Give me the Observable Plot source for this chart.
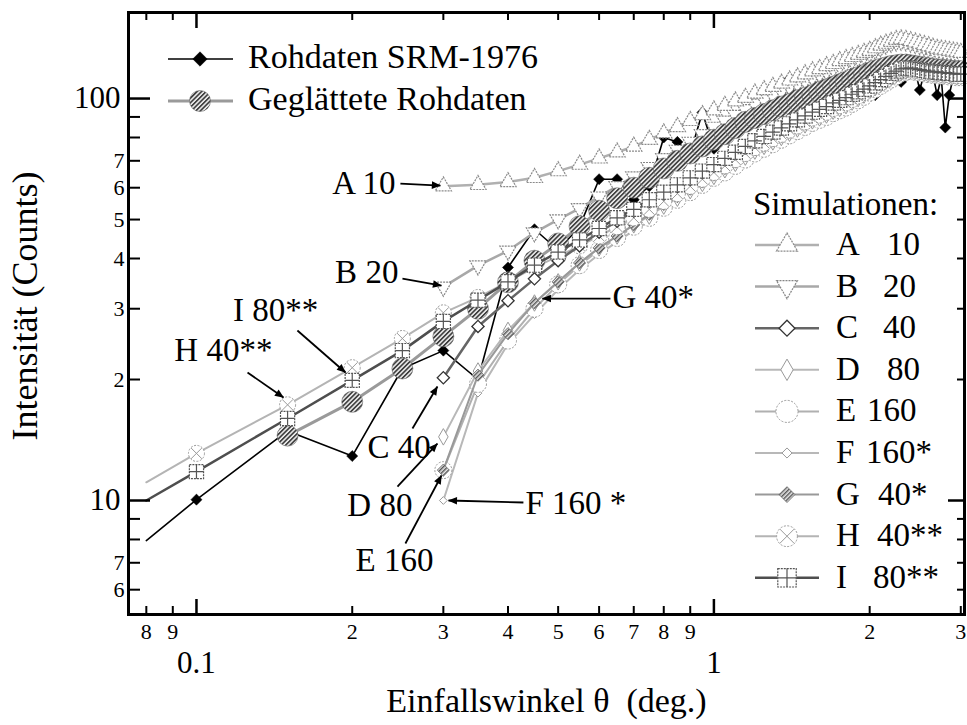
<!DOCTYPE html>
<html><head><meta charset="utf-8">
<script src="https://cdn.jsdelivr.net/npm/d3@7"></script>
<script src="https://cdn.jsdelivr.net/npm/@observablehq/plot@0.6"></script>
<style>
html,body{margin:0;padding:0;background:#fff;}
svg text{white-space:pre;}
</style>
</head><body>
<svg width="0" height="0" style="position:absolute">
<defs>
<pattern id="hatchDark" patternUnits="userSpaceOnUse" width="3.2" height="3.2" patternTransform="rotate(45)">
<rect width="3.2" height="3.2" fill="#efefef"/><rect width="1.7" height="3.2" fill="#404040"/>
</pattern>
<pattern id="hatchMid" patternUnits="userSpaceOnUse" width="3" height="3" patternTransform="rotate(45)">
<rect width="3" height="3" fill="#e4e4e4"/><rect width="1.4" height="3" fill="#555"/>
</pattern>
<marker id="ah" viewBox="0 0 10 10" refX="9.5" refY="5" markerWidth="13" markerHeight="9" markerUnits="userSpaceOnUse" orient="auto">
<path d="M0,0.8 L10,5 L0,9.2 z" fill="black"/>
</marker>
</defs>
</svg>
<div id="chart"></div>
<script>
// ---------- data ----------
const xs = [0.08,0.1,0.15,0.2,0.25,0.3,0.35,0.4,0.45,0.5,0.55,0.6,0.65,0.7,0.75,0.8,0.85,0.9,0.95,
  1.0,1.05,1.1,1.15,1.2,1.25,1.3,1.35,1.4,1.45,1.5,1.55,1.6,1.65,1.7,1.75,1.8,1.85,1.9,1.95,
  2.0,2.05,2.1,2.15,2.2,2.25,2.3,2.35,2.4,2.45,2.5,2.55,2.6,2.65,2.7,2.75,2.8,2.85,2.9,2.95,3.0];

const rawY = [7.95,10.05,14.9,12.9,21.3,23.6,20,38,47.3,42,48,63,63,56,60.5,80,78,73,92.3,
  75,80,83,87,90,92,95,96,112,99,101,104,103,107,106,110,111,116,113,115,
  104,102,112,115,114,113,110,117,119,117,105,116,118,115,102,113,84.7,102,113,115,114];

const smoothY = [14.5,17.6,21.3,25.6,30.0,34.9,39.5,43.6,48.1,52.6,56.5,60,63.5,67,70,73,76,
  79,81.5,84.5,87.5,89.5,91.5,93.5,95.5,97,99,100.5,102,104,105.5,107,108.5,110,111.5,113,114.5,
  116,117.5,118.5,119.5,120.5,121,121.5,121.5,121,120.5,120,119.5,119,118.5,118,118,117.5,117.5,117,117,117];

const simA = [60.5,61,62,63.5,66,68.5,71,73.5,76,79,82,85,88,91,
  93.5,96,98.5,100.5,103,105,107,109,111,113,115,117,118.5,120.5,122,124,125.5,127,128.5,130,
  131.5,133.5,135.5,137,138.5,140,140.5,140,139,138,137,136,135,134,133,132.5,132,131.5,131,130.5,130];
const simB = [34,38.4,41.8,46.4,50,53.3,57,60.5,64,67.5,71,74.5,78,81.5,
  85,88,91,94,97,99.5,102,104.5,107,109,111,113,115,117,119,121,123,124.5,126.5,128,
  130,132,134,136,137.5,138.5,139,138.5,137.5,136.5,135.5,134.5,133.5,132.5,131.5,131,130.5,130,129.5,129,128.5];
const simC = [20.2,27.1,31.4,35.6,39.5,43,46.5,49.5,52.5,55.5,58,60.5,63,65.5,
  68,70.5,73,75.5,78,80,82,84,86,88,90,92,93.5,95,97,98.5,100,102,103.5,105,
  106.5,108.5,110.5,112.5,114.5,116,117.5,118.5,118.5,118,117.5,117,116.5,116,116,115.5,115.5,115,115,114.5,114.5];
const simD = [14.4,21,26.5,31,35,39,42.5,45.5,48.5,51,54,56.5,59,61.5,
  64,66.5,69,71.5,74,76,78,80,82,84,86,88,89.5,91,93,94.5,96,98,100,102,
  104.5,106.5,108.5,110.5,112.5,114.5,116,117,117.5,117,116.5,116,115.5,115,115,114.5,114.5,114,114,113.5,113.5];
const simE = [11.9,19.5,25,30,34.5,38.5,42,45,48,50.5,53.5,56,58.5,61,
  63.5,65.5,68,70.5,73,75,77,79,81,83,85,87,88.5,90,92,93.5,95,97,99,101,
  103.5,105.5,107.5,109.5,111.5,113.5,115.5,116.5,117,116.5,116,115.5,115,114.5,114.5,114,114,113.5,113.5,113,113];
const simF = [10.0,18.5,24.5,29,33.5,37.5,41,44,47,49.5,52.5,55,57.5,60,
  62.5,64.5,67,69.5,72,74,76,78,80,82,84,86,87.5,89,91,92.5,94,96,98,100.5,
  103,105,107,109,111,113,115,116,116.5,116,115.5,115,114.5,114,114,113.5,113.5,113,113,112.5,112.5];
const simG = [11.9,20.5,26,31,35,39,42.5,45.5,48.5,51.5,54.5,57,59.5,62,
  64.5,67,69.5,72,74.5,76.5,78.5,80.5,82.5,84.5,86.5,88.5,90,91.5,93.5,95,96.5,98.5,100.5,102.5,
  104,106,108,110,112,114,115.5,116.5,117,116.5,116,115.5,115,114.5,114.5,114,114,113.5,113.5,113,113];
const simH = [11.1,13.1,17.3,21.4,25.3,
  29.3,32,35,38,40.5,43,45.5,48,50.5,53,55.5,58,60.5,63,
  65.5,68,70.5,73,75.5,77.5,79.5,81.5,83.5,85.5,87.5,89.5,91,92.5,94.5,96,97.5,99.5,101.5,103.5,
  105.5,107.5,109.5,111.5,113.5,115.5,117,118,118,117.5,117,116.5,116,115.5,115.5,115,115,114.5,114.5,114,114];
const simI = [10.0,11.8,16.0,19.9,23.6,
  27.9,31.5,35,38.5,41.5,44.5,47.5,50.5,53,56,58.5,61,63.5,66,
  68.5,71,73.5,76,78.5,80.5,82.5,84.5,86.5,88.5,90.5,92.5,94,95.5,97.5,99,100.5,102.5,104,105.5,
  107.5,109.5,111.5,113.5,115.5,117,118.5,119,119,118.5,118,117.5,117,116.5,116.5,116,116,115.5,115.5,115,115];

const simLetters = ["A","B","C","D","E","F","G","H","I"];
const simNumbers = ["10","20","40","80","160","160*","40*","40**","80**"];
const topLegendLabels = ["Rohdaten SRM-1976", "Geglättete Rohdaten"];

const xMajor = [0.1, 1];
const xMajorLabels = ["0.1", "1"];
const xMinor = [0.08,0.09,0.2,0.3,0.4,0.5,0.6,0.7,0.8,0.9,2,3];
const xMinorLabels = ["8","9","2","3","4","5","6","7","8","9","2","3"];
const yMajor = [10, 100];
const yMajorLabels = ["10", "100"];
const yMinor = [6,7,8,9,20,30,40,50,60,70,80,90];
const yMinorLabeled = [6,7,20,30,40,50,60,70];
const yMinorLabels = ["6","7","2","3","4","5","6","7"];

const annotations = [
  {label:"A 10",   tx:0.2424, ty:61.45, anchor:"end",   x1:0.2478, y1:61.45, x2:0.2961, y2:60.75},
  {label:"B 20",   tx:0.2456, ty:36.9,  anchor:"end",   x1:0.2501, y1:35.66, x2:0.2975, y2:34.25},
  {label:"I 80**", tx:0.1720, ty:29.69, anchor:"end",   x1:0.1567, y1:26.48, x2:0.1941, y2:20.82},
  {label:"H 40**", tx:0.1402, ty:23.61, anchor:"end",   x1:0.1255, y1:20.82, x2:0.1473, y2:18.04},
  {label:"C 40",   tx:0.2140, ty:13.55, anchor:"start", x1:0.2615, y1:15.11, x2:0.2922, y2:19.21},
  {label:"D 80",   tx:0.1957, ty:9.718, anchor:"start", x1:0.2446, y1:10.83, x2:0.2922, y2:13.86},
  {label:"E 160",  tx:0.2029, ty:7.09,  anchor:"start", x1:0.2534, y1:7.816, x2:0.2975, y2:11.54},
  {label:"F 160 *",tx:0.4322, ty:9.829, anchor:"start", x1:0.4284, y1:9.886, x2:0.3069, y2:10.0},
  {label:"G 40*",  tx:0.6366, ty:31.99, anchor:"start", x1:0.6310, y1:31.8,  x2:0.4661, y2:31.8}
];

// ---------- helpers ----------
const FONT = "'Liberation Serif','Tinos','Times New Roman','DejaVu Serif',serif";
function pts(vals){ const off = xs.length - vals.length; return vals.map((v,i)=>({x: xs[off+i], y: v})); }

const styles = {
  A:{line:"#b0b0b0", w:2.5, marks:[{symbol:"triangle", r:6, fill:"white", stroke:"#8a8a8a", sw:1.2, dash:"2,1"}]},
  B:{line:"#a8a8a8", w:2.5, marks:[{symbol:"triangle", r:6, rotate:180, fill:"white", stroke:"#858585", sw:1.2, dash:"2,1"}]},
  C:{line:"#666", w:2.5, marks:[{symbol:"diamond2", r:5.5, fill:"white", stroke:"#333", sw:1.3}]},
  D:{line:"#b8b8b8", w:2, marks:[{symbol:"diamond", r:5, fill:"white", stroke:"#999", sw:1}]},
  E:{line:"#b0b0b0", w:2, marks:[{symbol:"circle", r:8.5, fill:"white", stroke:"#999", sw:1, dash:"2,1.5"}]},
  F:{line:"#b8b8b8", w:2, marks:[{symbol:"diamond2", r:3.5, fill:"white", stroke:"#999", sw:1}]},
  G:{line:"#999", w:2, marks:[{symbol:"diamond2", r:5.5, fill:"#868686", stroke:"#666", sw:0.8, pattern:"hatchMid"}]},
  H:{line:"#b4b4b4", w:2, marks:[{symbol:"circle", r:8, fill:"white", stroke:"#9a9a9a", sw:1, dash:"2,1.5"},{symbol:"times", r:5, stroke:"#9a9a9a", sw:1}]},
  I:{line:"#4e4e4e", w:2.5, marks:[{symbol:"square", r:8, fill:"white", stroke:"#555", sw:1.2, dash:"2,1"},{symbol:"plus", r:4.6, stroke:"#555", sw:1.2}]}
};
const simData = {A:simA,B:simB,C:simC,D:simD,E:simE,F:simF,G:simG,H:simH,I:simI};

function seriesMarks(key){
  const st = styles[key];
  const data = pts(simData[key]);
  const out = [Plot.line(data, {x:"x", y:"y", stroke: st.line, strokeWidth: st.w})];
  st.marks.forEach(m => {
    out.push(Plot.dot(data.filter(d => d.x >= 0.1), {
      x:"x", y:"y", symbol: m.symbol, r: m.r, rotate: m.rotate || 0,
      fill: m.fill || "none", stroke: m.stroke, strokeWidth: m.sw,
      strokeDasharray: m.dash || null
    }));
  });
  return out;
}

const rawData = pts(rawY);
const smoothData = pts(smoothY);
const H = 602, W = 836;

const plot = Plot.plot({
  width: 967, height: 725,
  marginLeft: 128, marginRight: 3, marginTop: 12, marginBottom: 111,
  x: {type:"log", domain:[0.0739, 3.05], axis:null},
  y: {type:"log", domain:[5.205, 163.7], axis:null},
  style: {fontFamily: FONT, fontSize:"20px", background:"white", color:"black"},
  marks: [
    Plot.line(rawData, {x:"x", y:"y", stroke:"black", strokeWidth:1.6}),
    Plot.dot(rawData.filter(d => d.x >= 0.1), {x:"x", y:"y", symbol:"diamond2", r:5, fill:"black", stroke:"black", strokeWidth:0.5}),
    ...["F","E","D","G","H","C","B","A"].flatMap(seriesMarks),
    Plot.line(smoothData, {x:"x", y:"y", stroke:"#9a9a9a", strokeWidth:3}),
    Plot.dot(smoothData, {x:"x", y:"y", r:10.5, fill:"#787878", stroke:"#666", strokeWidth:0.6}),
    ...seriesMarks("I"),
    Plot.link(annotations, {x1:"x1", y1:"y1", x2:"x2", y2:"y2", stroke:"#010101", strokeWidth:1.8}),
    Plot.text(annotations.filter(a => a.anchor === "end"), {x:"tx", y:"ty", text:"label", textAnchor:"end", lineAnchor:"middle", fontSize:33}),
    Plot.text(annotations.filter(a => a.anchor === "start"), {x:"tx", y:"ty", text:"label", textAnchor:"start", lineAnchor:"middle", fontSize:33}),
    Plot.tickX(xMinor, {x:d=>d, insetTop:H-8, stroke:"black", strokeWidth:2}),
    Plot.tickX(xMajor, {x:d=>d, insetTop:H-15, stroke:"black", strokeWidth:2.5}),
    Plot.tickX(xMinor, {x:d=>d, insetBottom:H-8, stroke:"black", strokeWidth:2}),
    Plot.tickX(xMajor, {x:d=>d, insetBottom:H-16, stroke:"black", strokeWidth:2.5}),
    Plot.tickY(yMinor, {y:d=>d, insetRight:W-12, stroke:"black", strokeWidth:2}),
    Plot.tickY(yMajor, {y:d=>d, insetRight:W-22, stroke:"black", strokeWidth:2.5}),
    Plot.tickY(yMinor, {y:d=>d, insetLeft:W-7, stroke:"black", strokeWidth:2}),
    Plot.tickY(yMajor, {y:d=>d, insetLeft:W-16, stroke:"black", strokeWidth:2.5}),
    Plot.frame({stroke:"black", strokeWidth:3}),
    Plot.text(xMinor, {x:d=>d, text:(d,i)=>xMinorLabels[i], frameAnchor:"bottom", lineAnchor:"middle", dy:17, fontSize:22}),
    Plot.text(xMajor, {x:d=>d, text:(d,i)=>xMajorLabels[i], frameAnchor:"bottom", lineAnchor:"middle", dy:49, fontSize:31}),
    Plot.text(yMajor, {y:d=>d, text:(d,i)=>yMajorLabels[i], frameAnchor:"left", textAnchor:"end", lineAnchor:"middle", dx:-8, fontSize:31}),
    Plot.text(yMinorLabeled, {y:d=>d, text:(d,i)=>yMinorLabels[i], frameAnchor:"left", textAnchor:"end", lineAnchor:"middle", dx:-4, fontSize:22}),
    Plot.text(["Einfallswinkel θ  (deg.)"], {frameAnchor:"bottom", lineAnchor:"middle", dy:87, fontSize:34})
  ]
});

document.getElementById("chart").appendChild(plot);
const svg = d3.select(plot);

// pattern fills and arrow heads
svg.selectAll('[fill="#787878"]').attr("fill", "url(#hatchDark)");
svg.selectAll('[fill="#868686"]').attr("fill", "url(#hatchMid)");
svg.selectAll('g[stroke="#010101"]').attr("stroke", "black");
svg.selectAll('g[stroke="black"] path').filter(function(){ return this.parentNode.getAttribute("stroke-width") === "1.8"; })
  .attr("marker-end", "url(#ah)");

// ---------- y title & legends ----------
const lg = svg.append("g").attr("font-family", FONT).attr("text-anchor", "start").attr("fill", "black");
lg.append("text").attr("transform", "translate(25,306) rotate(-90)").attr("text-anchor", "middle")
  .attr("dominant-baseline", "central").attr("font-size", 36).text("Intensität (Counts)");

const symTypes = {triangle:d3.symbolTriangle, diamond:d3.symbolDiamond, diamond2:d3.symbolDiamond2,
  circle:d3.symbolCircle, square:d3.symbolSquare, plus:d3.symbolPlus, times:d3.symbolTimes};
function drawSym(g, m, cx, cy, scale){
  const r = m.r * scale;
  g.append("path")
    .attr("d", d3.symbol(symTypes[m.symbol], Math.PI * r * r)())
    .attr("transform", `translate(${cx},${cy})` + (m.rotate ? ` rotate(${m.rotate})` : ""))
    .attr("fill", m.pattern ? `url(#${m.pattern})` : (m.fill || "none"))
    .attr("stroke", m.stroke || "none")
    .attr("stroke-width", m.sw || 1)
    .attr("stroke-dasharray", m.dash || null);
}

const topRows = [
  {line:"black", w:1.6, marks:[{symbol:"diamond2", r:6.5, fill:"black", stroke:"black", sw:0.5}]},
  {line:"#9a9a9a", w:3, marks:[{symbol:"circle", r:10.5, fill:"#777", stroke:"#666", sw:0.6, pattern:"hatchDark"}]}
];
topLegendLabels.forEach((lab, i) => {
  const base = 68 + i * 42, cy = base - 9;
  const st = topRows[i];
  lg.append("line").attr("x1", 168).attr("x2", 233).attr("y1", cy).attr("y2", cy)
    .attr("stroke", st.line).attr("stroke-width", st.w);
  st.marks.forEach(m => drawSym(lg, m, 200, cy, 1));
  lg.append("text").attr("x", 248).attr("y", base).attr("font-size", 34).text(lab);
});

lg.append("text").attr("x", 753).attr("y", 215).attr("font-size", 33).text("Simulationen:");
const numX = [887, 883, 883, 887, 867, 866, 878, 877, 873];
simLetters.forEach((L, i) => {
  const base = 255 + i * 41.6, cy = base - 10;
  const st = styles[L];
  lg.append("line").attr("x1", 755).attr("x2", 819).attr("y1", cy).attr("y2", cy)
    .attr("stroke", st.line).attr("stroke-width", st.w);
  st.marks.forEach(m => drawSym(lg, m, 787, cy, 1.3));
  lg.append("text").attr("x", 836).attr("y", base).attr("font-size", 33).text(L);
  lg.append("text").attr("x", numX[i]).attr("y", base).attr("font-size", 33).text(simNumbers[i]);
});
</script>
</body></html>
